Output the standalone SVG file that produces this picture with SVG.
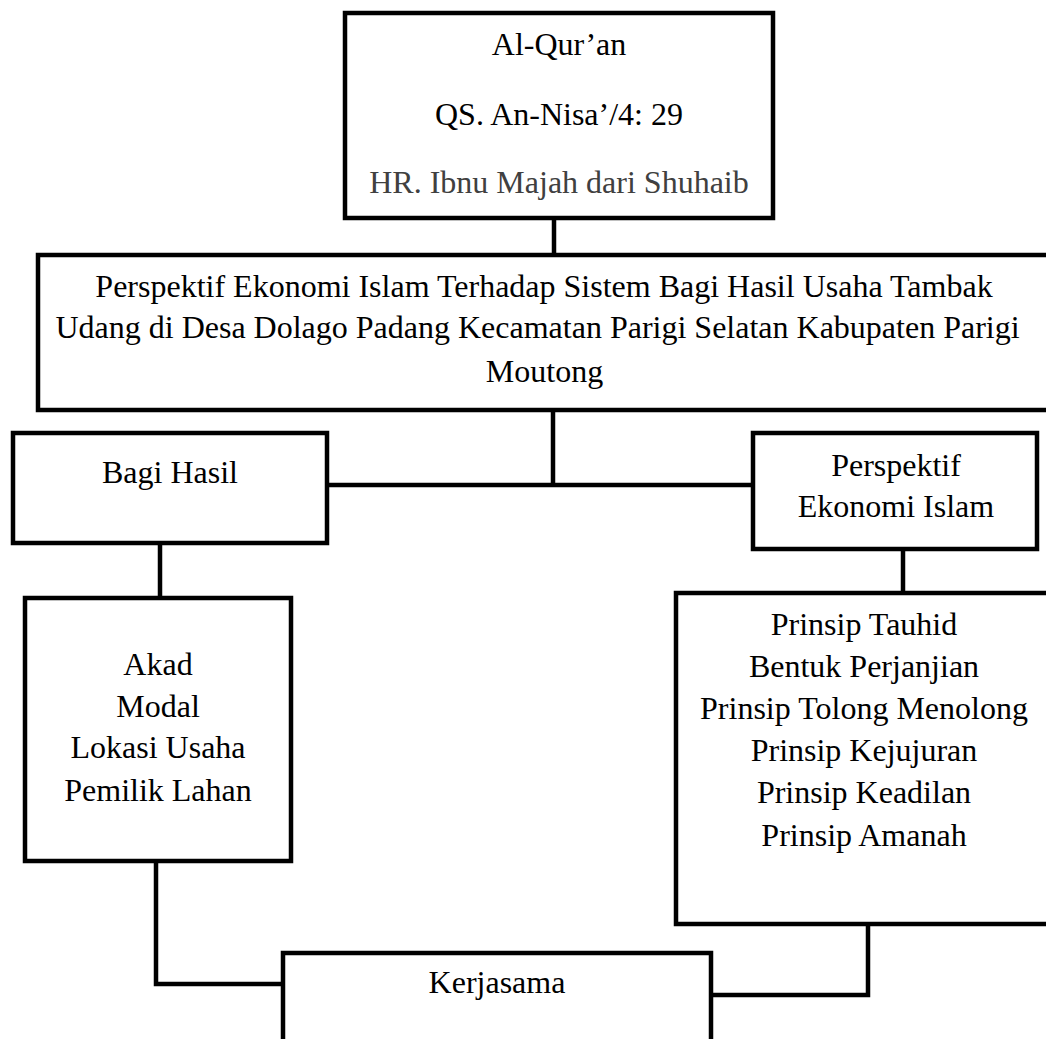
<svg xmlns="http://www.w3.org/2000/svg" width="1046" height="1039" viewBox="0 0 1046 1039">
<style>
.box{fill:#fff;stroke:#000;stroke-width:4.5;}
.conn{fill:none;stroke:#000;stroke-width:4.5;}
text{font-family:"Liberation Serif","Times New Roman",serif;font-size:32px;fill:#000;text-anchor:middle;}
.gray{fill:#404040;}
</style>
<rect width="1046" height="1039" fill="#fff"/>
<g id="connectors">
<line class="conn" x1="554" y1="218" x2="554" y2="255"/>
<line class="conn" x1="553" y1="410" x2="553" y2="485"/>
<line class="conn" x1="327" y1="485" x2="753" y2="485"/>
<line class="conn" x1="160" y1="543" x2="160" y2="598"/>
<line class="conn" x1="903" y1="549" x2="903" y2="593"/>
<path class="conn" d="M156 861 V984 H283"/>
<path class="conn" d="M868 924 V995 H711"/>
</g>
<g id="node-sumber">
<rect class="box" x="345" y="13" width="428" height="205"/>
<text x="559" y="55">Al-Qur’an</text>
<text x="559" y="125">QS. An-Nisa’/4: 29</text>
<text class="gray" x="559" y="193">HR. Ibnu Majah dari Shuhaib</text>
</g>
<g id="node-judul">
<rect class="box" x="38" y="255" width="1030" height="155"/>
<text x="544" y="297">Perspektif Ekonomi Islam Terhadap Sistem Bagi Hasil Usaha Tambak</text>
<text x="537.5" y="338">Udang di Desa Dolago Padang Kecamatan Parigi Selatan Kabupaten Parigi</text>
<text x="544.5" y="382">Moutong</text>
</g>
<g id="node-bagi-hasil">
<rect class="box" x="13" y="433" width="314" height="110"/>
<text x="170" y="483">Bagi Hasil</text>
</g>
<g id="node-perspektif">
<rect class="box" x="753" y="433" width="284" height="116"/>
<text x="896" y="476">Perspektif</text>
<text x="896" y="517">Ekonomi Islam</text>
</g>
<g id="node-akad">
<rect class="box" x="25" y="598" width="266" height="263"/>
<text x="158" y="675">Akad</text>
<text x="158" y="717">Modal</text>
<text x="158" y="758">Lokasi Usaha</text>
<text x="158" y="801">Pemilik Lahan</text>
</g>
<g id="node-prinsip">
<rect class="box" x="676" y="593" width="390" height="331"/>
<text x="864" y="635">Prinsip Tauhid</text>
<text x="864" y="677">Bentuk Perjanjian</text>
<text x="864" y="719">Prinsip Tolong Menolong</text>
<text x="864" y="761">Prinsip Kejujuran</text>
<text x="864" y="803">Prinsip Keadilan</text>
<text x="864" y="846">Prinsip Amanah</text>
</g>
<g id="node-kerjasama">
<rect class="box" x="283" y="953" width="428" height="120"/>
<text x="497" y="993">Kerjasama</text>
</g>
</svg>
